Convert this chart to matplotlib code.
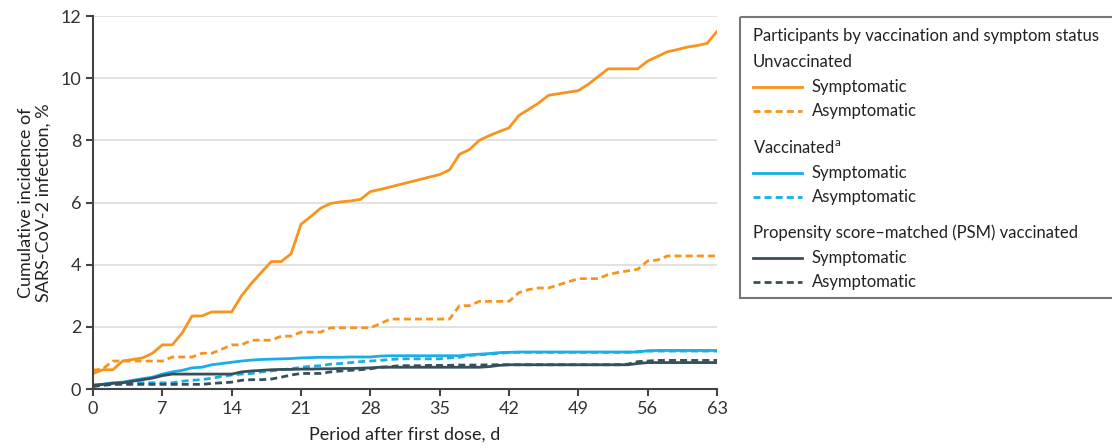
import numpy as np
import matplotlib
matplotlib.use('Agg')
import matplotlib.pyplot as plt
from matplotlib.patches import Rectangle

plt.rcParams['font.family'] = ['Lato', 'DejaVu Sans']

# Data (cumulative incidence, %) ----------------------------------------------
days = np.arange(0, 64)

unvac_sym = [0.50, 0.62, 0.62, 0.90, 0.95, 1.00, 1.15, 1.42, 1.42, 1.80,
             2.35, 2.35, 2.48, 2.48, 2.48, 3.00, 3.40, 3.75, 4.10, 4.10,
             4.35, 5.30, 5.55, 5.82, 5.97, 6.02, 6.05, 6.10, 6.35, 6.42,
             6.50, 6.58, 6.66, 6.74, 6.82, 6.90, 7.05, 7.55, 7.70, 8.00,
             8.15, 8.28, 8.40, 8.80, 9.00, 9.20, 9.45, 9.50, 9.55, 9.60,
             9.80, 10.05, 10.30, 10.30, 10.30, 10.30, 10.55, 10.70, 10.85, 10.92,
             11.00, 11.05, 11.12, 11.50]
unvac_asym = [0.60, 0.65, 0.90, 0.90, 0.90, 0.90, 0.90, 0.90, 1.03, 1.03,
              1.03, 1.15, 1.15, 1.28, 1.42, 1.42, 1.57, 1.57, 1.57, 1.70,
              1.70, 1.83, 1.83, 1.83, 1.97, 1.97, 1.97, 1.97, 1.97, 2.10,
              2.25, 2.25, 2.25, 2.25, 2.25, 2.25, 2.25, 2.68, 2.68, 2.82,
              2.82, 2.82, 2.82, 3.10, 3.20, 3.25, 3.25, 3.35, 3.45, 3.55,
              3.55, 3.55, 3.68, 3.75, 3.80, 3.85, 4.12, 4.15, 4.28, 4.28,
              4.28, 4.28, 4.28, 4.28]
vac_sym = [0.12, 0.15, 0.20, 0.22, 0.28, 0.33, 0.38, 0.48, 0.55, 0.60,
           0.68, 0.70, 0.78, 0.82, 0.86, 0.90, 0.93, 0.95, 0.96, 0.97,
           0.98, 1.00, 1.01, 1.02, 1.02, 1.02, 1.03, 1.03, 1.03, 1.06,
           1.07, 1.07, 1.07, 1.07, 1.07, 1.07, 1.07, 1.07, 1.10, 1.12,
           1.14, 1.17, 1.18, 1.19, 1.19, 1.19, 1.19, 1.19, 1.19, 1.19,
           1.19, 1.19, 1.19, 1.19, 1.19, 1.19, 1.23, 1.24, 1.24, 1.24,
           1.24, 1.24, 1.24, 1.24]
vac_asym = [0.10, 0.12, 0.15, 0.18, 0.20, 0.20, 0.20, 0.20, 0.20, 0.25,
            0.28, 0.30, 0.35, 0.40, 0.45, 0.48, 0.50, 0.55, 0.58, 0.62,
            0.65, 0.70, 0.73, 0.75, 0.80, 0.82, 0.85, 0.88, 0.90, 0.92,
            0.95, 0.97, 0.97, 0.97, 0.97, 0.97, 1.00, 1.02, 1.08, 1.10,
            1.12, 1.15, 1.17, 1.18, 1.18, 1.18, 1.18, 1.18, 1.18, 1.18,
            1.18, 1.18, 1.18, 1.18, 1.18, 1.20, 1.22, 1.22, 1.22, 1.22,
            1.22, 1.22, 1.22, 1.22]
psm_sym = [0.12, 0.15, 0.18, 0.20, 0.25, 0.30, 0.35, 0.43, 0.48, 0.48,
           0.48, 0.48, 0.48, 0.48, 0.48, 0.55, 0.58, 0.60, 0.62, 0.63,
           0.63, 0.64, 0.64, 0.65, 0.65, 0.66, 0.66, 0.67, 0.68, 0.70,
           0.70, 0.70, 0.70, 0.70, 0.70, 0.70, 0.70, 0.70, 0.70, 0.70,
           0.72, 0.76, 0.78, 0.78, 0.78, 0.78, 0.78, 0.78, 0.78, 0.78,
           0.78, 0.78, 0.78, 0.78, 0.78, 0.82, 0.85, 0.85, 0.85, 0.85,
           0.85, 0.85, 0.85, 0.85]
psm_asym = [0.08, 0.12, 0.15, 0.15, 0.15, 0.15, 0.15, 0.15, 0.15, 0.15,
            0.15, 0.15, 0.18, 0.20, 0.22, 0.28, 0.30, 0.30, 0.32, 0.38,
            0.45, 0.50, 0.50, 0.50, 0.55, 0.58, 0.60, 0.62, 0.65, 0.70,
            0.72, 0.75, 0.75, 0.75, 0.76, 0.76, 0.76, 0.77, 0.77, 0.77,
            0.78, 0.78, 0.78, 0.78, 0.78, 0.78, 0.78, 0.78, 0.78, 0.78,
            0.78, 0.78, 0.78, 0.78, 0.80, 0.88, 0.90, 0.92, 0.92, 0.92,
            0.92, 0.92, 0.92, 0.92]

xticks = np.arange(0, 64, 7)
yticks = np.arange(0, 13, 2)

ORANGE = '#F7941D'
BLUE = '#1AADE8'
DARK = '#36505B'
DASH = (0, (2.5, 1.5))

# Figure ----------------------------------------------------------------------
W, H = 1112, 448
fig = plt.figure(figsize=(W / 100, H / 100), dpi=100)
ax = fig.add_axes([93 / W, 1 - 389 / H, (717 - 93) / W, (389 - 16) / H])

ax.plot(days, unvac_sym, color=ORANGE, lw=2)
ax.plot(days, unvac_asym, color=ORANGE, lw=2, ls=DASH)
ax.plot(days, vac_sym, color=BLUE, lw=2)
ax.plot(days, vac_asym, color=BLUE, lw=2, ls=DASH)
ax.plot(days, psm_sym, color=DARK, lw=2)
ax.plot(days, psm_asym, color=DARK, lw=2, ls=DASH)

ax.set_xlim(0, 63)
ax.set_ylim(0, 12)
ax.set_xticks(xticks)
ax.set_yticks(yticks)
ax.yaxis.grid(True, color='#dddddd', lw=1.2)
ax.set_axisbelow(True)
for s in ['top', 'right']:
    ax.spines[s].set_visible(False)
for s in ['left', 'bottom']:
    ax.spines[s].set_color('#444444')
    ax.spines[s].set_linewidth(1.5)
ax.tick_params(axis='both', labelsize=13, colors='#444444', width=1.5, length=5,
               labelcolor='#333333')
ax.set_xlabel('Period after first dose, d', fontsize=13, color='#222222', labelpad=7)
ax.set_ylabel('Cumulative incidence of\nSARS-CoV-2 infection, %', fontsize=13,
              color='#222222', labelpad=6)

# Legend box -------------------------------------------------------------------
lax = fig.add_axes([740 / W, 1 - 298 / H, (W - 740) / W, (298 - 16) / H])
lax.set_xlim(740, W)
lax.set_ylim(298, 16)
lax.axis('off')
lax.add_patch(Rectangle((740.5, 16.5), 400, 281, fill=False, ec='#777777', lw=1.5,
                        clip_on=False))

txt = dict(fontsize=12, color='#222222', va='center', ha='left')
lax.text(753, 36, 'Participants by vaccination and symptom status', **txt)
groups = [('Unvaccinated', ORANGE, 62),
          ('Vaccinated$^{\\mathregular{a}}$', BLUE, 148),
          ('Propensity score–matched (PSM) vaccinated', DARK, 233)]
for label, col, y in groups:
    lax.text(753, y, label, **txt)
    lax.plot([753, 802], [y + 24.5, y + 24.5], color=col, lw=2)
    lax.plot([753, 802], [y + 49, y + 49], color=col, lw=2, ls=DASH)
    lax.text(812, y + 24.5, 'Symptomatic', **txt)
    lax.text(812, y + 49, 'Asymptomatic', **txt)

fig.savefig('out.png', dpi=100)
